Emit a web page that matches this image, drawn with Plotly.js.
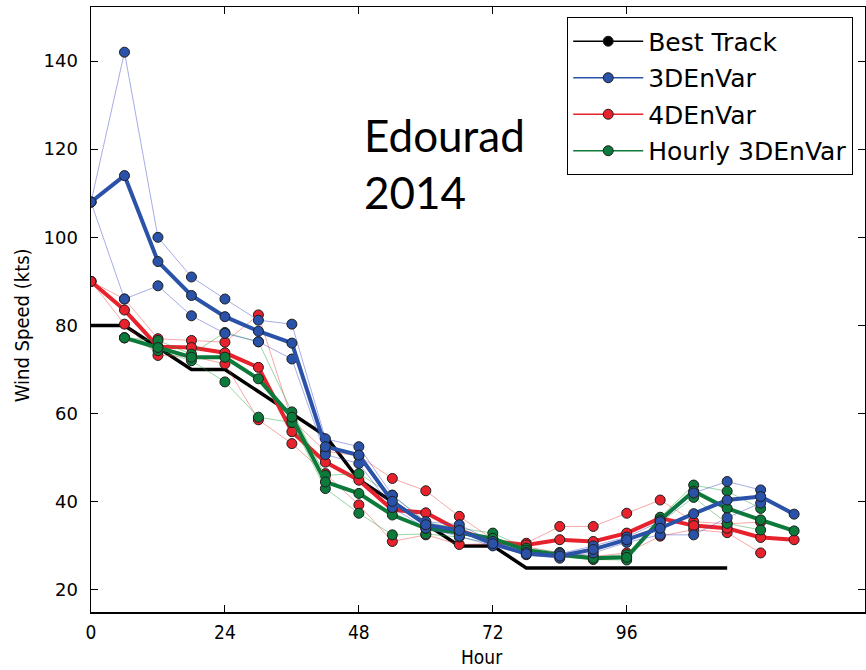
<!DOCTYPE html>
<html>
<head>
<meta charset="utf-8">
<script src="https://cdn.plot.ly/plotly-3.0.1.min.js"></script>
<style>
  html, body { margin: 0; padding: 0; background: #ffffff; }
  #chart { width: 866px; height: 670px; }
</style>
</head>
<body>
<div id="chart"></div>
<script>
// Forecast hour (6-hourly)
const hours = [0, 6, 12, 18, 24, 30, 36, 42, 48, 54, 60, 66, 72, 78, 84, 90, 96, 102, 108, 114, 120, 126];

// Best track intensity (kts)
const bestTrack = [80, 80, 75, 70, 70, 65, 60, 55, 45, 40, 35, 30, 30, 25, 25, 25, 25, 25, 25, 25, null, null];

// 3DEnVar: mean and the two individual runs
const envar3dMean = [108, 114, 94.5, 86.8, 82, 78.7, 76, 52.5, 50.6, 40.1, 34.8, 33.5, 30.5, 28.2, 27.7, 29.2, 31.4, 34, 37.3, 40.4, 41.2, 37.2];
const envar3dRunA = [108, 142, 100, 91, 86, 81.2, 80.3, 54.3, 52.5, 41.5, 35.5, 34.8, 31, 28.5, 28.2, 30, 32, 35.5, 42, 44.6, 42.7, null];
const envar3dRunB = [108, 86, 89, 82.2, 78.2, 76.3, 72.4, 50.7, 48.7, 38.7, 34, 32.2, 30, 28, 27.2, 28.4, 30.8, 32.5, 32.5, 36.4, 39.7, null];

// 4DEnVar: mean and the two individual runs
const envar4dMean = [90, 83.5, 75.2, 75, 73.8, 70.5, 55.9, 49, 44.9, 38.2, 37.5, 33.5, 31, 30.2, 31.4, 31, 32.9, 36.3, 34.6, 34, 31.9, 31.4];
const envar4dRunA = [90, 86, 77, 76.6, 76.2, 82.4, 58.6, 51.5, 50.4, 45.3, 42.5, 36.7, 31.5, 30.6, 34.4, 34.4, 37.4, 40.4, 35.5, 35, 35.4, null];
const envar4dRunB = [90, 80.3, 73.2, 73, 71.3, 58.6, 53.2, 46.4, 39.3, 31, 32.5, 30.3, 30.5, 29.8, 28.4, 27.6, 28.4, 32.2, 33.7, 33, 28.4, null];

// Hourly 3DEnVar: mean and the two individual runs
const hourlyMean = [null, 77.2, 75, 72.8, 72.8, 67.9, 59.2, 44.5, 41.9, 37, 34, 33, 31.7, 29, 28, 27.2, 27.4, 35.9, 42.4, 38.5, 35.9, 33.4];
const hourlyRunA = [null, 77.2, 76.6, 73.5, 78.4, 76.3, 60.4, 46, 46.4, 41.5, 35.3, 34, 32.9, 29.5, 28.5, 27.5, 28, 36.5, 43.8, 42.4, 38.5, null];
const hourlyRunB = [null, 77.2, 74.3, 72, 67.2, 59.2, 58, 43, 37.4, 32.5, 32.7, 32, 30.5, 28.5, 27.5, 26.9, 26.8, 35.3, 41, 35.1, 33.6, null];

const xTicks = [0, 24, 48, 72, 96];
const yTicks = [20, 40, 60, 80, 100, 120, 140];

const seriesNames = ['Best Track', '3DEnVar', '4DEnVar', 'Hourly 3DEnVar'];
const COLORS = {
  best: '#000000',
  blue: '#2a52a8', blueThin: 'rgba(60,70,200,0.45)',
  red: '#e8222c', redThin: 'rgba(240,60,60,0.45)',
  green: '#0c7a3a', greenThin: 'rgba(30,160,60,0.45)'
};
const EDGE = { color: '#1e1e1e', width: 1 };
const DOT = 10;

function runTrace(y, dotColor, lineColor) {
  return {
    x: hours, y: y, type: 'scatter', mode: 'lines+markers',
    line: { color: lineColor, width: 1 },
    marker: { size: DOT, color: dotColor, line: EDGE },
    showlegend: false, hoverinfo: 'skip'
  };
}
function meanTrace(y, color) {
  return {
    x: hours, y: y, type: 'scatter', mode: 'lines+markers',
    line: { color: color, width: 4 },
    marker: { size: DOT, color: color, line: EDGE },
    showlegend: false, hoverinfo: 'skip'
  };
}
function legendEntry(name, color, group) {
  return {
    x: [null], y: [null], type: 'scatter', mode: 'lines+markers', name: name,
    legendgroup: group,
    line: { color: color, width: 1.5 },
    marker: { size: DOT, color: color, line: EDGE },
    hoverinfo: 'skip'
  };
}

const traces = [
  { x: hours, y: bestTrack, type: 'scatter', mode: 'lines',
    line: { color: COLORS.best, width: 3.5 }, showlegend: false, hoverinfo: 'skip' },
  runTrace(envar4dRunA, COLORS.red, COLORS.redThin),
  runTrace(envar4dRunB, COLORS.red, COLORS.redThin),
  meanTrace(envar4dMean, COLORS.red),
  runTrace(hourlyRunA, COLORS.green, COLORS.greenThin),
  runTrace(hourlyRunB, COLORS.green, COLORS.greenThin),
  meanTrace(hourlyMean, COLORS.green),
  runTrace(envar3dRunA, COLORS.blue, COLORS.blueThin),
  runTrace(envar3dRunB, COLORS.blue, COLORS.blueThin),
  meanTrace(envar3dMean, COLORS.blue),
  legendEntry(seriesNames[0], COLORS.best, 'g1'),
  legendEntry(seriesNames[1], COLORS.blue, 'g2'),
  legendEntry(seriesNames[2], COLORS.red, 'g3'),
  legendEntry(seriesNames[3], COLORS.green, 'g4')
];

const TICK_FONT = { family: 'DejaVu Sans, sans-serif', size: 18, color: '#000' };
const NARROW_FAMILY = 'DejaVu Sans Condensed, Liberation Sans Narrow, DejaVu Sans, sans-serif';

const layout = {
  width: 866, height: 670,
  margin: { l: 91, r: 1, t: 7, b: 58 },
  paper_bgcolor: '#ffffff', plot_bgcolor: '#ffffff',
  showlegend: true,
  legend: {
    x: 0.615, y: 0.983, xanchor: 'left', yanchor: 'top',
    bgcolor: '#ffffff', bordercolor: '#000000', borderwidth: 1.2,
    font: { family: 'DejaVu Sans, sans-serif', size: 25, color: '#000' },
    itemwidth: 70, tracegroupgap: 1, traceorder: 'grouped'
  },
  xaxis: {
    range: [0, 138.7], tickvals: xTicks, ticktext: xTicks.map(String),
    ticks: 'inside', ticklen: 7, tickwidth: 1, tickcolor: '#000',
    showline: true, linecolor: '#000', linewidth: 1.5, mirror: 'allticks',
    showgrid: false, zeroline: false,
    tickfont: { family: NARROW_FAMILY, size: 19, color: '#000' }, ticklabelstandoff: 3
  },
  yaxis: {
    range: [15, 152.25], tickvals: yTicks, ticktext: yTicks.map(String),
    ticks: 'inside', ticklen: 7, tickwidth: 1, tickcolor: '#000',
    showline: true, linecolor: '#000', linewidth: 1.5, mirror: 'allticks',
    showgrid: false, zeroline: false,
    tickfont: TICK_FONT, ticklabelstandoff: 8
  },
  annotations: [
    {
      // x-axis label
      xref: 'paper', yref: 'paper', x: 0.505, y: -0.074, xanchor: 'center', yanchor: 'middle',
      text: 'Hour', showarrow: false,
      font: { family: NARROW_FAMILY, size: 19, color: '#000' }
    },
    {
      // y-axis label, sitting a little below the plot's vertical centre
      xref: 'paper', yref: 'paper', x: -0.089, y: 0.474, xanchor: 'center', yanchor: 'middle',
      text: 'Wind Speed (kts)', textangle: -90, showarrow: false,
      font: { family: NARROW_FAMILY, size: 20, color: '#000' }
    },
    {
      xref: 'paper', yref: 'paper', x: 0.35, y: 0.835, xanchor: 'left', yanchor: 'top',
      text: 'Edourad<br>2014', showarrow: false, align: 'left',
      font: { family: 'Lato, Carlito, sans-serif', size: 44, color: '#000' }
    }
  ]
};

Plotly.newPlot('chart', traces, layout, { staticPlot: true, displayModeBar: false });
</script>
</body>
</html>
